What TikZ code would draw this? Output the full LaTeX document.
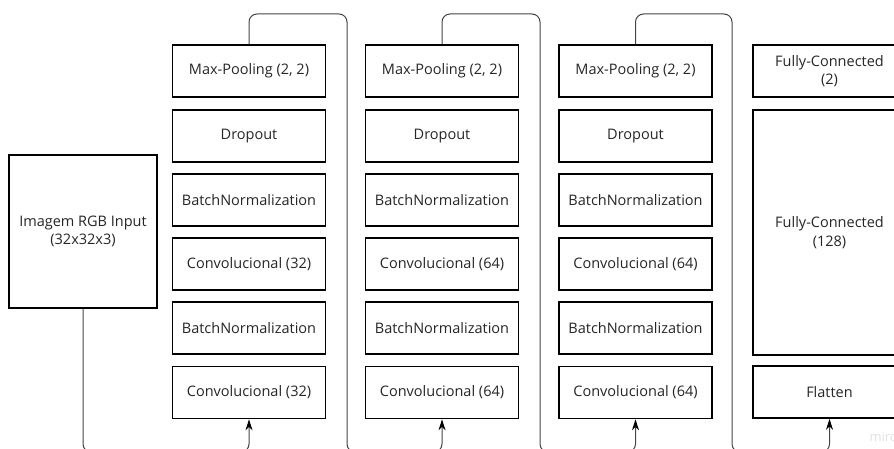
\documentclass[tikz,border=0pt]{standalone}
\usepackage{fontspec}
\setmainfont{Open Sans}
\usetikzlibrary{arrows.meta}
\definecolor{txt}{HTML}{262626}
\definecolor{wire}{HTML}{444444}
\tikzset{
  layer/.style={draw=black, line width=1.7pt, fill=white, minimum width=153pt, minimum height=52pt,
    inner sep=0pt, align=center, text=txt, font=\fontsize{14.5}{18.5}\selectfont},
  wirestyle/.style={draw=wire, line width=1pt, rounded corners=8pt},
  arrowtip/.style={-{Stealth[length=11pt,width=7pt,color=black]}}
}
\begin{document}
\begin{tikzpicture}[x=1pt,y=-1pt]
\useasboundingbox (0,0) rectangle (894,449);
\clip (0,0) rectangle (894,449);
% input
\node[layer, minimum width=148pt, minimum height=153pt] (in) at (83,231.5) {Imagem RGB Input\\(32x32x3)};
% three conv columns
\foreach \c/\x/\n in {1/249/32, 2/442/64, 3/635.5/64}{
  \node[layer] (c\c r1) at (\x,71) {Max-Pooling (2, 2)};
  \node[layer] (c\c r2) at (\x,136) {Dropout};
  \node[layer] (c\c r3) at (\x,200) {BatchNormalization};
  \node[layer] (c\c r4) at (\x,264) {Convolucional (\n)};
  \node[layer] (c\c r5) at (\x,328) {BatchNormalization};
  \node[layer] (c\c r6) at (\x,392.5) {Convolucional (\n)};
}
% dense column
\node[layer] (fc2) at (829.5,71) {Fully-Connected\\(2)};
\node[layer, minimum height=245pt] (fc128) at (829.5,232.5) {Fully-Connected\\(128)};
\node[layer] (flat) at (829.5,392) {Flatten};
% watermark
\node[text=black!12, font=\fontsize{13}{15}\selectfont, anchor=west] (wm) at (866,437) {miro};
% connectors
\draw[wirestyle, arrowtip] (in.south) -- (83,452) -| (c1r6.south);
\draw[wirestyle, arrowtip] (c1r1.north) |- (347,14) -- (347,452) -| (c2r6.south);
\draw[wirestyle, arrowtip] (c2r1.north) |- (540,14) -- (540,452) -| (c3r6.south);
\draw[wirestyle, arrowtip] (c3r1.north) |- (732,14) -- (732,452) -| (flat.south);
\end{tikzpicture}
\end{document}
